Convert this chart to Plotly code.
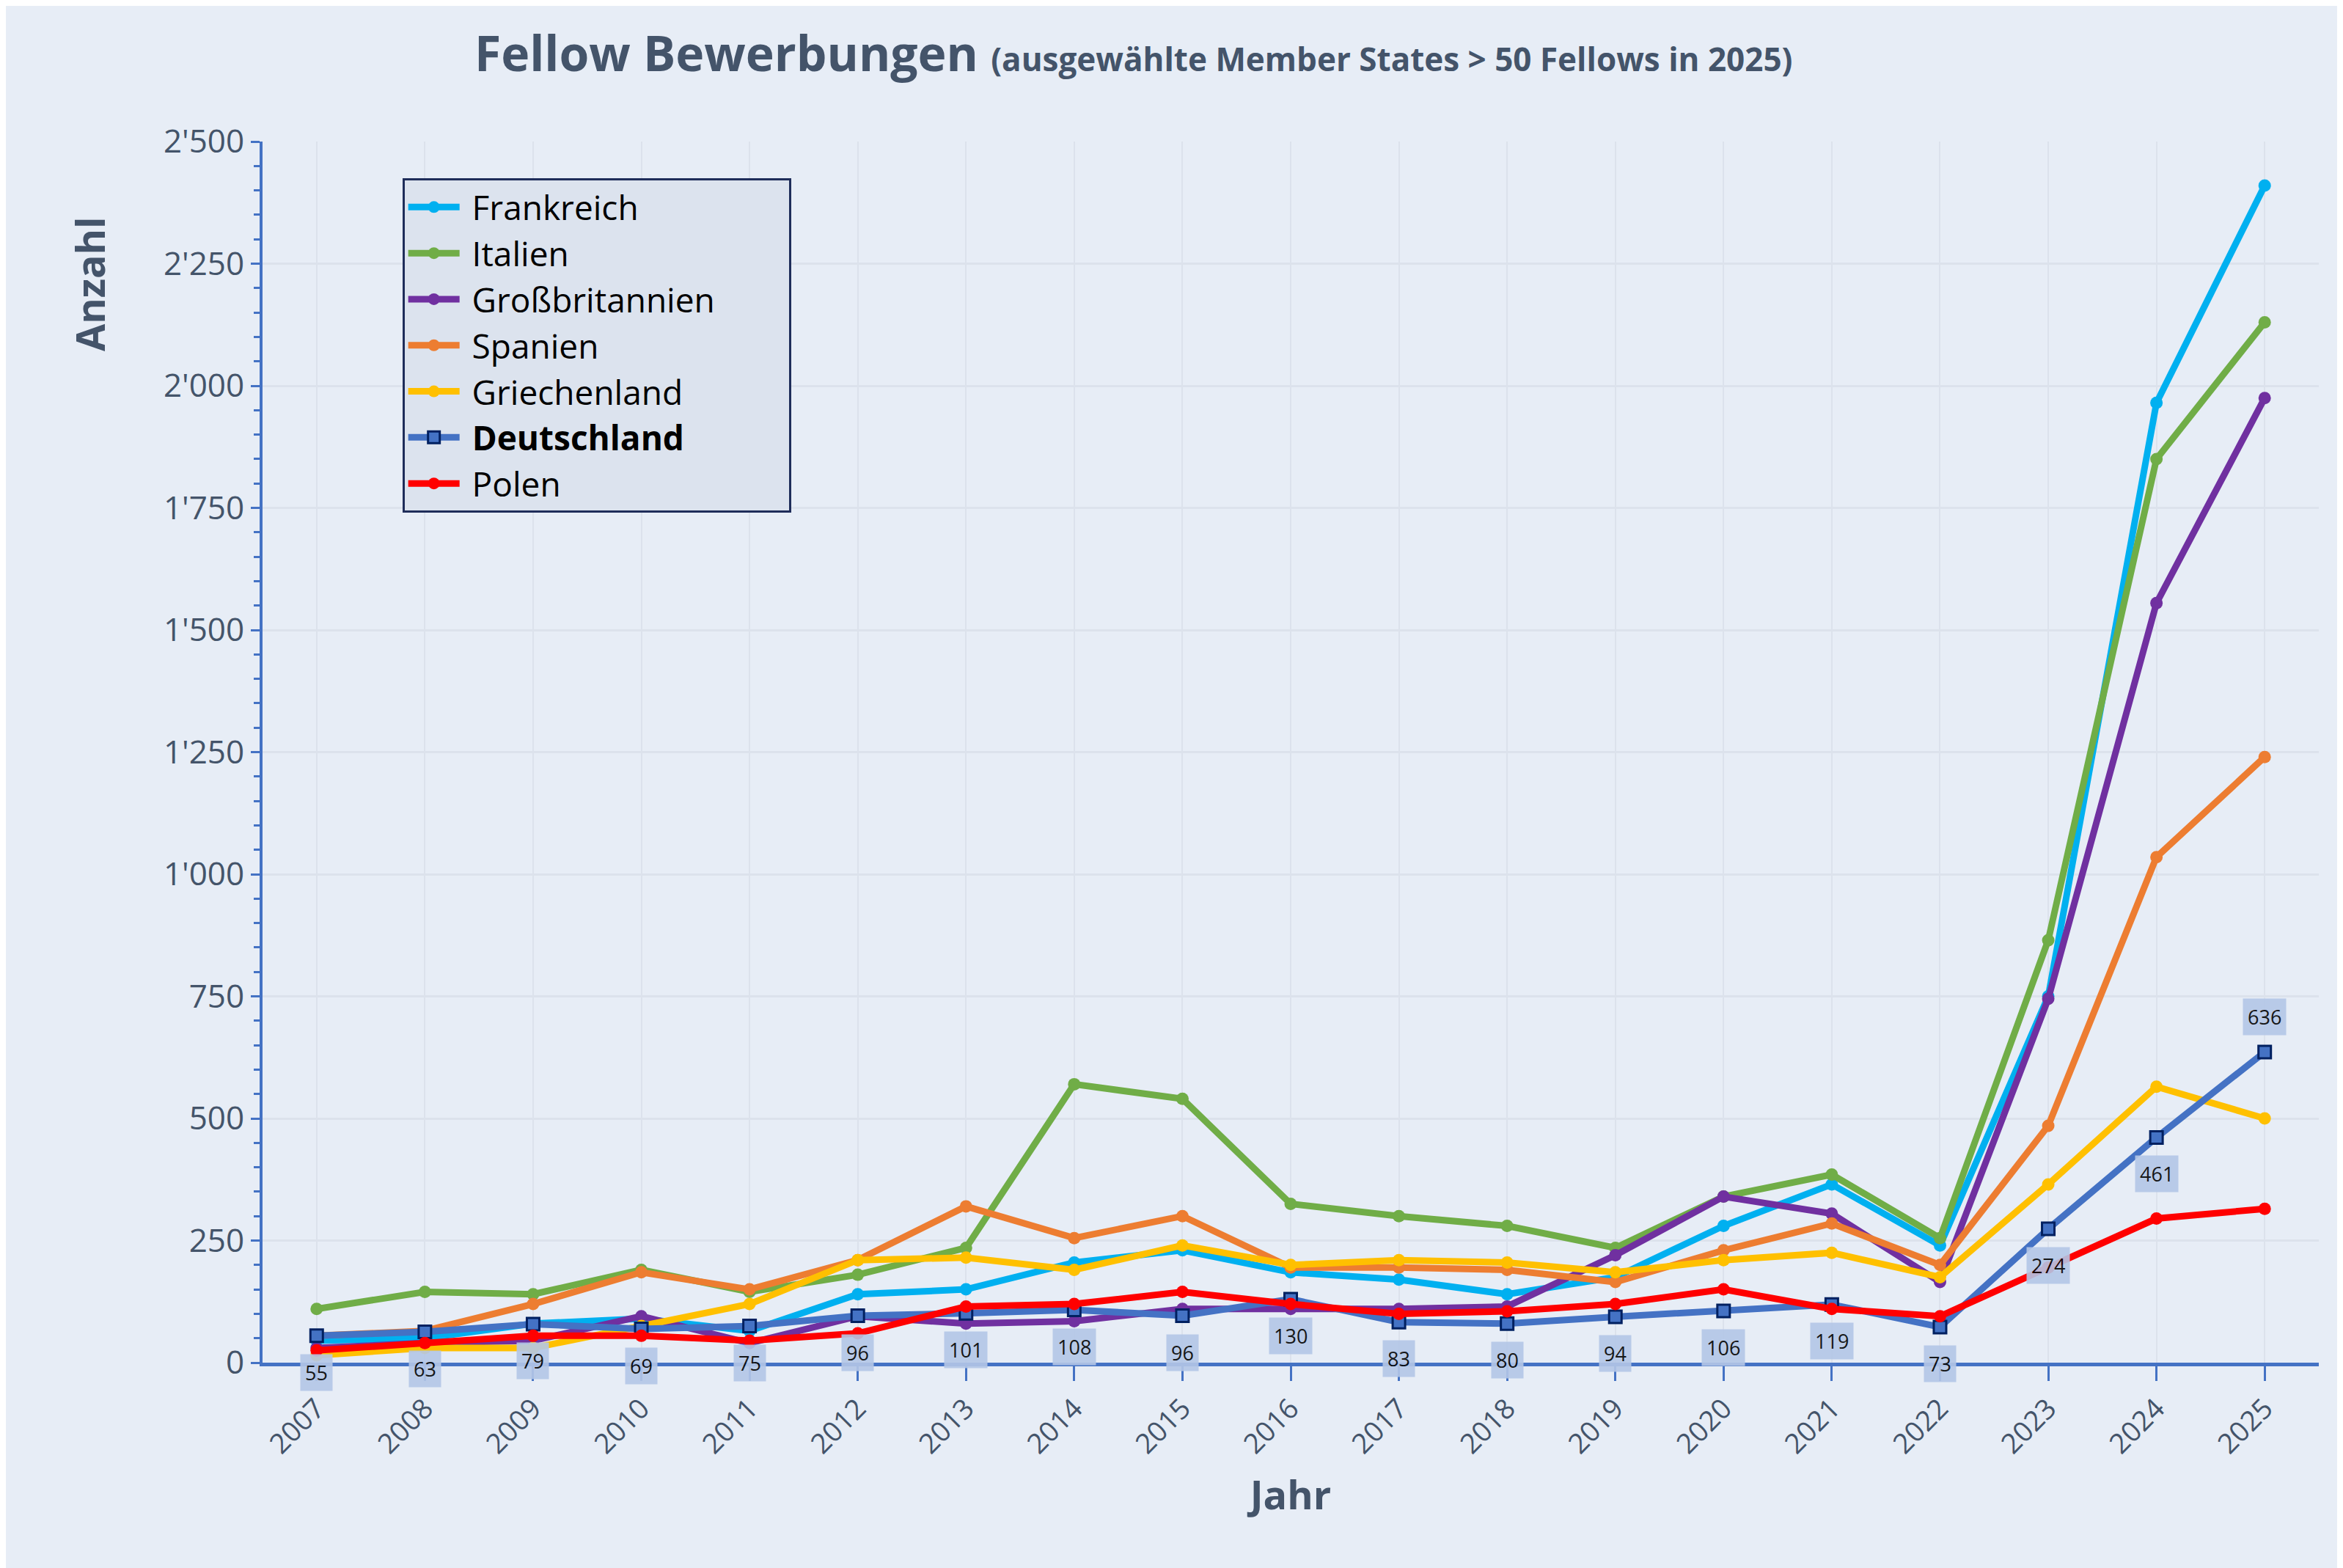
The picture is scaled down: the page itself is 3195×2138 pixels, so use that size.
import plotly.graph_objects as go

years = list(range(2007, 2026))

frankreich = [45, 50, 80, 90, 65, 140, 150, 205, 230, 185, 170, 140, 175, 280, 365, 240, 750, 1965, 2410]
italien = [110, 145, 140, 190, 145, 180, 235, 570, 540, 325, 300, 280, 235, 340, 385, 255, 865, 1850, 2130]
grossbritannien = [30, 40, 45, 95, 40, 95, 80, 85, 110, 110, 110, 115, 220, 340, 305, 165, 745, 1555, 1975]
spanien = [55, 65, 120, 185, 150, 210, 320, 255, 300, 195, 195, 190, 165, 230, 285, 200, 485, 1035, 1240]
griechenland = [15, 30, 30, 75, 120, 210, 215, 190, 240, 200, 210, 205, 185, 210, 225, 175, 365, 565, 500]
deutschland = [55, 63, 79, 69, 75, 96, 101, 108, 96, 130, 83, 80, 94, 106, 119, 73, 274, 461, 636]
polen = [25, 40, 55, 55, 45, 60, 115, 120, 145, 120, 100, 105, 120, 150, 110, 95, 195, 295, 315]

y_ticks = [0, 250, 500, 750, 1000, 1250, 1500, 1750, 2000, 2250, 2500]
y_labels = ["0", "250", "500", "750", "1'000", "1'250", "1'500", "1'750", "2'000", "2'250", "2'500"]

font = "Open Sans"
grey = "#44546A"
axis_blue = "#4472C4"
pad = "\u00a0" * 8

fig = go.Figure()

series = [
    ("Frankreich", frankreich, "#00B0F0"),
    ("Italien", italien, "#70AD47"),
    ("Großbritannien", grossbritannien, "#7030A0"),
    ("Spanien", spanien, "#ED7D31"),
    ("Griechenland", griechenland, "#FFC000"),
]
for name, vals, col in series:
    fig.add_trace(go.Scatter(x=years, y=vals, name=" " + name + pad, mode="lines+markers",
                             line=dict(color=col, width=9),
                             marker=dict(color=col, size=17)))

fig.add_trace(go.Scatter(x=years, y=deutschland, name=" <b>Deutschland</b>", mode="lines+markers",
                         line=dict(color="#4472C4", width=9),
                         marker=dict(color="#4472C4", size=17, symbol="square",
                                     line=dict(color="#002060", width=3))))
fig.add_trace(go.Scatter(x=years, y=polen, name=" Polen", mode="lines+markers",
                         line=dict(color="#FF0000", width=9),
                         marker=dict(color="#FF0000", size=17)))

# data labels for Deutschland
for yr, v in zip(years, deutschland):
    above = yr == 2025
    fig.add_annotation(x=yr, y=v, text=str(v), showarrow=False,
                       yshift=48 if above else -50,
                       bgcolor="#B4C7E7", opacity=0.9, borderpad=6,
                       font=dict(family=font, size=27, color="black"))

# y axis title placed at the top left
fig.add_annotation(xref="paper", yref="paper", x=-0.098, y=0.94, text="<b>Anzahl</b>",
                   textangle=-90, showarrow=False,
                   font=dict(family=font, size=54, color=grey))

fig.update_layout(
    width=3195, height=2138,
    paper_bgcolor="#E7EDF6", plot_bgcolor="#E7EDF6",
    margin=dict(l=350, r=41, t=185, b=288),
    title=dict(text="<b>Fellow Bewerbungen</b> <b><span style='font-size:44px'>(ausgewählte Member States > 50 Fellows in 2025)</span></b>",
               x=0.2, xanchor="left", y=0.98, yanchor="top",
               font=dict(family=font, size=66, color=grey)),
    legend=dict(x=0.068, y=0.97, xanchor="left", yanchor="top",
                bgcolor="#DCE3EE", bordercolor="#1F2D5A", borderwidth=3,
                font=dict(family=font, size=46, color="black"),
                itemwidth=70, tracegroupgap=0),
    font=dict(family=font),
)

fig.update_xaxes(range=[2006.5, 2025.5], tickvals=years, tickangle=-45,
                 tickfont=dict(family=font, size=38, color=grey),
                 showline=True, linecolor=axis_blue, linewidth=5,
                 ticks="outside", tickcolor=axis_blue, ticklen=20, tickwidth=3,
                 showgrid=True, gridcolor="#DCE2EC", gridwidth=2, zeroline=False,
                 title=dict(text="<b>Jahr</b>", font=dict(family=font, size=54, color=grey), standoff=30))
fig.update_yaxes(range=[0, 2500], tickvals=y_ticks, ticktext=y_labels,
                 tickfont=dict(family=font, size=44, color=grey),
                 showline=True, linecolor=axis_blue, linewidth=4,
                 ticks="outside", tickcolor=axis_blue, ticklen=12, tickwidth=3,
                 minor=dict(dtick=50, ticks="outside", ticklen=8, tickcolor=axis_blue, showgrid=False),
                 showgrid=True, gridcolor="#DCE2EC", gridwidth=3, zeroline=False)

fig.write_html("out.html")
